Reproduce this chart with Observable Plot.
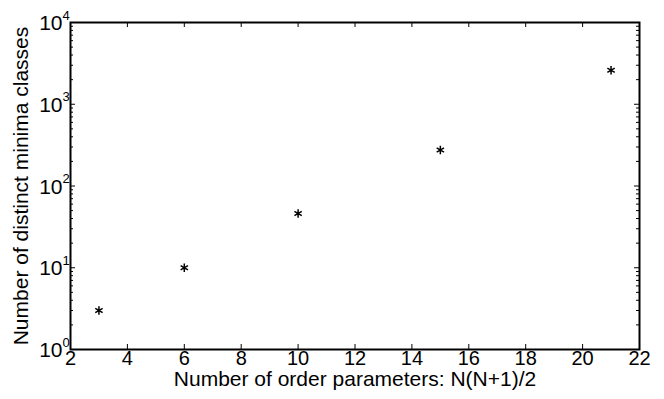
<!DOCTYPE html>
<html>
<head>
<meta charset="utf-8">
<script src="https://cdn.jsdelivr.net/npm/d3@7"></script>
<script src="https://cdn.jsdelivr.net/npm/@observablehq/plot@0.6"></script>
<style>
  html, body { margin: 0; padding: 0; background: #fff; }
  svg text { font-family: "Liberation Sans", Arial, Helvetica, sans-serif; }
</style>
</head>
<body>
<div id="chart"></div>
<script>
// Data
const orderParams = [3, 6, 10, 15, 21];
const minimaClasses = [3, 10, 46, 275, 2600];

// Tick labels
const xTicks = [2, 4, 6, 8, 10, 12, 14, 16, 18, 20, 22];
const yExponents = [0, 1, 2, 3, 4];
const yMinor = [0, 1, 2, 3].flatMap(k => [2, 3, 4, 5, 6, 7, 8, 9].map(m => m * 10 ** k));

const xLabel = "Number of order parameters: N(N+1)/2";
const yLabel = "Number of distinct minima classes";

const W = 664, H = 399;
const mL = 70, mR = 25, mT = 22, mB = 50;
const fw = W - mL - mR, fh = H - mT - mB;
const inner = xTicks.slice(1, -1);
const FF = "Liberation Sans";

const data = orderParams.map((x, i) => ({x, y: minimaClasses[i]}));

const chart = Plot.plot({
  width: W,
  height: H,
  marginLeft: mL, marginRight: mR, marginTop: mT, marginBottom: mB,
  style: {fontFamily: "'Liberation Sans', Arial, sans-serif", fontSize: "21px", background: "#fff", color: "#000"},
  x: {domain: [2, 22], axis: null},
  y: {type: "log", domain: [1, 1e4], axis: null},
  marks: [
    // x ticks (inward, bottom and top)
    Plot.tickX(inner, {x: d => d, stroke: "#000", strokeWidth: 1, insetTop: fh - 5}),
    Plot.tickX(inner, {x: d => d, stroke: "#000", strokeWidth: 1, insetBottom: fh - 5}),
    // y major ticks (inward, left and right)
    Plot.tickY(yExponents.slice(1, -1), {y: d => 10 ** d, stroke: "#000", strokeWidth: 1, insetRight: fw - 5}),
    Plot.tickY(yExponents.slice(1, -1), {y: d => 10 ** d, stroke: "#000", strokeWidth: 1, insetLeft: fw - 5}),
    // y minor ticks
    Plot.tickY(yMinor, {y: d => d, stroke: "#000", strokeWidth: 1, insetRight: fw - 3}),
    Plot.tickY(yMinor, {y: d => d, stroke: "#000", strokeWidth: 1, insetLeft: fw - 3}),
    Plot.frame({stroke: "#000", strokeWidth: 2}),
    // data
    Plot.dot(data, {x: "x", y: "y", symbol: "asterisk", r: 4, stroke: "#000", strokeWidth: 1.5}),
    // x tick labels
    Plot.text(xTicks, {x: d => d, frameAnchor: "bottom", textAnchor: "middle", dy: 15, fontSize: 20, fontFamily: FF, fill: "#000"}),
    // y tick labels: 10 with superscript exponent
    Plot.text(yExponents, {y: d => 10 ** d, text: () => "10", frameAnchor: "left", textAnchor: "end", dx: -8, dy: 1, fontSize: 21, fontFamily: FF, fill: "#000"}),
    Plot.text(yExponents, {y: d => 10 ** d, text: d => String(d), frameAnchor: "left", textAnchor: "start", dx: -8, dy: -7, fontSize: 13, fontFamily: FF, fill: "#000"}),
    // axis labels
    Plot.text([xLabel], {text: d => d, frameAnchor: "bottom", textAnchor: "middle", dy: 36, fontSize: 21, fontFamily: FF, fill: "#000"}),
    Plot.text([yLabel], {text: d => d, frameAnchor: "left", textAnchor: "middle", dx: -49, rotate: -90, fontSize: 21, fontFamily: FF, fill: "#000"})
  ]
});
document.getElementById("chart").appendChild(chart);
</script>
</body>
</html>
